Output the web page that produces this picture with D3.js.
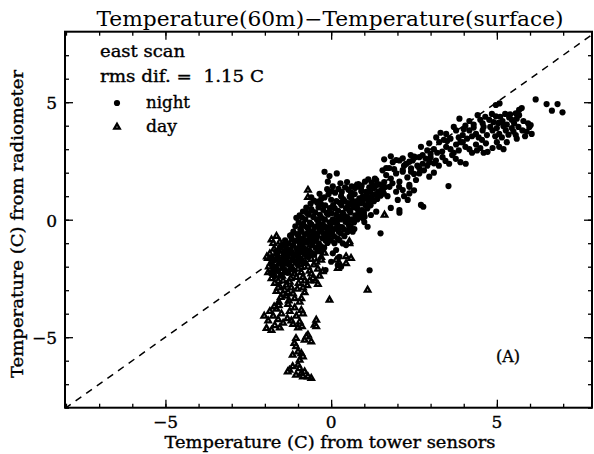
<!DOCTYPE html>
<html>
<head>
<meta charset="utf-8">
<script src="https://cdn.jsdelivr.net/npm/d3@7"></script>
<style>
  body { margin: 0; background: #fff; }
  text { font-family: "DejaVu Serif", serif; fill: #000; }
  .heavy { stroke: #000; stroke-width: 0.35px; }
</style>
</head>
<body>
<div id="vis"></div>
<script>
const FRAME_WIDTH = 594;
const FRAME_HEIGHT = 454;
const PLOT = {left: 65, right: 592, top: 31.7, bottom: 407.7};

// tick values and labels
const minorTicks = [-8, -7, -6, -5, -4, -3, -2, -1, 0, 1, 2, 3, 4, 5, 6, 7];
const majorTicks = [-5, 0, 5];
const tickLabels = ["\u22125", "0", "5"];

// night points [tower, radiometer]
const nightPts = [
  // far top right
  [6.17,5.12],[6.5,4.92],[6.66,4.64],[6.83,4.92],[6.98,4.57],[4.97,4.88],[5.08,4.95],[5.67,4.67],[5.75,4.75],[5.57,4.53],[6.02,4.03],[5.94,4.1],
  // upper band
  [3.87,4.3],[4.17,4.2],[4.42,4.45],[4.57,4.1],[4.77,4.25],[4.97,4.4],[5.17,4.2],[5.37,4.35],[5.52,4.1],[5.67,4.45],[4.3,4.05],[4.65,4.38],[5.05,4.12],[5.3,4.05],[5.45,4.25],[4.85,4.5],[5.25,4.5],[5.6,4.3],[5.8,4.2],[4.05,4.0],[4.5,4.25],[4.9,4.15],[5.1,4.38],[5.4,4.48],
  [3.17,3.5],[3.47,3.65],[3.77,3.8],[3.97,3.6],[4.17,3.8],[4.37,3.65],[4.57,3.8],[4.87,3.8],[5.07,3.65],[5.27,3.8],[5.57,3.6],[5.77,3.8],[5.98,3.95],[3.6,3.45],[3.85,3.5],[4.1,3.45],[4.3,3.92],[4.45,3.5],[4.7,3.6],[4.8,3.95],[5.0,3.9],[5.15,3.5],[5.35,3.62],[5.45,3.9],[5.65,3.95],[5.85,3.55],[3.3,3.7],[3.7,3.95],[4.0,3.85],[4.25,3.55],[4.6,3.95],[4.95,3.55],[5.2,3.98],[5.5,3.75],[3.9,3.3],[4.55,3.4],[3.4,3.4],[5.3,3.3],[5.6,3.45],[5.9,3.75],[6.05,3.65],
  [2.96,3.25],[3.26,3.3],[3.47,3.1],[3.77,3.2],[3.97,3.3],[4.17,3.0],[4.37,3.2],[4.67,3.25],[4.87,3.05],[5.07,3.1],[4.72,2.89],[3.1,3.0],[3.35,2.9],[3.6,3.0],[3.85,2.95],[4.05,3.1],[4.25,2.85],[4.5,3.05],[4.6,2.85],[5.0,3.3],[5.2,3.0],[3.2,2.85],[3.5,3.35],[3.7,2.85],[4.4,2.95],[2.9,2.95],[3.0,2.8],
  [1.66,2.2],[1.86,2.45],[2.06,2.52],[2.26,2.38],[2.46,2.52],[2.66,2.66],[2.76,2.38],[2.96,2.45],[3.16,2.52],[3.36,2.66],[3.56,2.38],[3.76,2.59],[4.06,2.38],[1.96,2.54],[2.16,2.61],[2.36,2.47],[2.51,2.68],[2.71,3.1],[2.76,2.75],[1.6,2.57],[2.2,2.3],[2.6,2.3],[3.0,2.65],[3.25,2.3],[3.45,2.5],[3.65,2.75],[3.9,2.45],[2.9,2.3],[2.4,2.75],[1.8,2.7],[2.85,2.6],[3.1,2.4],
  [1.66,1.9],[1.96,1.97],[2.16,2.11],[2.41,2.18],[2.66,1.97],[2.96,1.83],[2.56,1.69],[2.66,2.19],[2.41,2.04],[2.16,2.04],[2.06,1.62],[1.8,1.75],[2.3,1.8],[2.8,2.1],[3.1,2.0],[1.55,2.1],[1.75,2.2],[2.5,1.95],[1.9,2.15],
  [1.36,1.69],[1.56,1.26],[1.76,1.4],[1.96,1.19],[2.16,1.26],[2.36,1.4],[2.31,0.84],[2.01,0.84],[2.36,1.48],[2.36,1.12],[3.54,1.43],[1.45,1.5],[1.7,1.0],[1.85,1.55],[2.05,1.4],[2.2,1.0],[2.5,1.25],[1.3,1.35],[1.6,1.6],
  // scattered right of the cluster
  [2.71,0.63],[2.06,0.41],[2.06,0.3],[2.78,0.55],[1.36,0.34],[1.01,0.13],[0.96,0.06],[1.49,-0.58],[1.16,-2.15],[0.55,-0.37],[0.65,-0.51],[0.25,-0.87],[0.35,-1.01],[0.45,-1.08],[0.25,-1.58],[0.15,-1.29],[0.05,-1.43],[0.0,-1.79],[0.2,-1.93],[0.3,-2.0],[-0.17,-2.14],[1.2,0.2],[1.8,0.5],[1.1,-0.3],
  [-0.2,2.04],[-0.05,1.86],[0.17,1.97],[-0.1,1.62],[-0.4,0.77],
  // dense cluster
  [-1.82,-2.28],[-1.78,-1.93],[-1.84,-1.62],
  [-1.71,-2.41],[-1.68,-2.02],[-1.73,-1.71],[-1.66,-1.34],
  [-1.61,-2.18],[-1.57,-1.87],[-1.63,-1.52],[-1.55,-1.19],
  [-1.52,-2.37],[-1.47,-2.04],[-1.5,-1.68],[-1.44,-1.41],[-1.49,-1.08],
  [-1.41,-2.12],[-1.37,-1.79],[-1.43,-1.53],[-1.35,-1.22],[-1.39,-0.88],
  [-1.31,-2.26],[-1.28,-1.91],[-1.33,-1.61],[-1.26,-1.3],[-1.29,-1.01],[-1.24,-0.68],
  [-1.21,-1.98],[-1.17,-1.72],[-1.22,-1.41],[-1.15,-1.09],[-1.19,-0.82],[-1.14,-0.51],
  [-1.11,-2.17],[-1.07,-1.83],[-1.12,-1.49],[-1.05,-1.22],[-1.09,-0.91],[-1.03,-0.61],[-1.08,-0.28],
  [-1.01,-1.88],[-0.97,-1.61],[-1.02,-1.3],[-0.95,-1.02],[-0.99,-0.69],[-0.93,-0.42],[-0.98,-0.11],
  [-0.91,-1.72],[-0.87,-1.38],[-0.92,-1.12],[-0.85,-0.79],[-0.89,-0.51],[-0.84,-0.18],[-0.88,0.09],
  [-0.81,-1.81],[-0.77,-1.49],[-0.82,-1.21],[-0.75,-0.88],[-0.79,-0.62],[-0.74,-0.31],[-0.78,0.02],[-0.73,0.29],
  [-0.71,-1.58],[-0.67,-1.32],[-0.72,-0.98],[-0.65,-0.71],[-0.69,-0.39],[-0.64,-0.12],[-0.68,0.21],
  [-0.61,-1.41],[-0.57,-1.08],[-0.62,-0.82],[-0.55,-0.49],[-0.59,-0.21],[-0.54,0.12],[-0.58,0.38],
  [-0.51,-1.48],[-0.47,-1.19],[-0.52,-0.92],[-0.45,-0.58],[-0.49,-0.31],[-0.44,0.02],[-0.48,0.31],
  [-0.41,-1.29],[-0.37,-1.01],[-0.42,-0.69],[-0.35,-0.41],[-0.39,-0.09],[-0.34,0.21],[-0.38,0.52],
  [-0.31,-1.12],[-0.27,-0.78],[-0.32,-0.51],[-0.25,-0.19],[-0.29,0.08],[-0.24,0.42],
  [-0.21,-1.19],[-0.17,-0.88],[-0.22,-0.59],[-0.15,-0.31],[-0.19,0.01],[-0.14,0.29],[-0.18,0.61],
  [-0.11,-0.99],[-0.07,-0.72],[-0.12,-0.38],[-0.05,-0.11],[-0.09,0.22],[-0.04,0.49],
  [-0.01,-0.88],[0.03,-0.61],[-0.02,-0.29],[0.05,0.02],[0.01,0.28],[0.06,0.62],
  [0.09,-0.71],[0.13,-0.38],[0.08,-0.12],[0.15,0.21],[0.11,0.48],[0.16,0.79],
  [0.19,-0.79],[0.23,-0.51],[0.18,-0.19],[0.25,0.12],[0.21,0.38],[0.26,0.72],
  [0.29,-0.58],[0.33,-0.31],[0.28,0.01],[0.35,0.29],[0.31,0.61],[0.36,0.88],
  [0.39,-0.41],[0.43,-0.09],[0.38,0.22],[0.45,0.48],[0.41,0.79],
  [0.49,-0.52],[0.53,-0.21],[0.48,0.11],[0.55,0.38],[0.51,0.71],[0.56,0.98],
  [0.59,-0.29],[0.63,0.02],[0.58,0.31],[0.65,0.59],[0.61,0.91],
  [0.69,-0.12],[0.73,0.19],[0.68,0.52],[0.75,0.78],[0.71,1.09],
  [0.79,0.01],[0.83,0.32],[0.78,0.61],[0.85,0.91],
  [0.89,0.12],[0.93,0.41],[0.88,0.69],[0.95,0.98],[0.91,1.21],
  [0.99,0.29],[1.03,0.61],[0.98,0.88],[1.05,1.19],
  [1.09,0.48],[1.13,0.79],[1.08,1.11],[1.15,1.38],
  [1.19,0.61],[1.23,0.91],[1.18,1.19],
  [1.29,0.79],[1.33,1.09],[1.28,1.41],
  [1.39,0.88],[1.43,1.21],[1.38,1.49],
  [1.49,1.02],[1.53,1.29],[1.59,1.11],[1.63,1.39],
  // top edge of the cluster
  [-1.05,0.08],[-0.95,0.18],[-0.85,0.35],[-0.75,0.52],[-0.62,0.68],[-0.52,0.81],[-0.42,0.72],[-0.3,0.88],[-0.2,0.95],[-0.08,1.08],[0.02,1.22],[0.12,1.15],[0.22,1.31],[0.32,1.18],[0.42,1.38],[0.52,1.27],[0.62,1.42],[0.72,1.35],[0.82,1.52],[0.92,1.45],[1.02,1.62],[1.12,1.72],[1.22,1.58],[1.32,1.75],[0.05,1.42],[0.28,1.55],[-0.12,1.3],[0.48,1.6],[-0.35,1.1],[-0.6,0.95],
  [-0.3,-1.35],[0.1,-1.0],[0.4,-0.7],[0.7,-0.4],[1.0,-0.1],
  // gap fill inside the cluster
  [-1.75,-2.15],[-1.6,-1.7],[-1.45,-1.85],[-1.3,-1.45],[-1.15,-1.6],[-1.0,-1.45],[-0.85,-1.0],[-0.7,-0.55],[-0.55,-0.7],[-0.4,-0.25],[-0.25,-0.35],[-0.1,-0.55],[0.05,-0.45],[0.2,0.0],[0.35,0.1],[0.5,0.55],[0.65,0.75],[0.8,0.45],[0.95,0.75],[1.1,0.95],[1.25,1.05],[1.4,1.05],[1.55,1.45],[0.9,1.35],[0.6,1.15],[0.3,1.0],[0.0,0.85],[-0.3,0.65],[-0.6,0.45],[-0.9,-0.3],[-1.2,-0.65],[-1.4,-1.05],[-1.6,-1.35],[-1.0,-0.85],[-0.45,-0.82],[-0.15,-0.65],[0.25,-0.3],[0.55,0.0],[0.85,0.2],[1.15,0.62]
];

// day points [tower, radiometer]
const dayPts = [
  [-1.85,-1.45],[-1.72,-1.25],[-1.62,-1.58],[-1.48,-1.32],[-1.35,-1.55],[-1.22,-1.28],[-1.08,-1.52],[-0.95,-1.3],[-0.82,-1.58],[-0.68,-1.22],[-0.55,-1.5],[-0.42,-1.35],[-0.3,-1.6],[-0.2,-1.42],
  [-1.78,-1.75],[-1.65,-2.05],[-1.52,-1.82],[-1.4,-2.15],[-1.28,-1.88],[-1.15,-2.12],[-1.02,-1.78],[-0.9,-2.02],[-0.78,-1.85],[-0.65,-2.18],[-0.52,-1.92],[-0.4,-2.1],[-0.3,-1.72],[-1.88,-2.0],[-0.6,-1.68],[-1.1,-1.65],
  [-1.72,-2.35],[-1.6,-2.62],[-1.48,-2.4],[-1.35,-2.78],[-1.22,-2.5],[-1.1,-2.3],[-0.98,-2.7],[-0.85,-2.45],[-0.72,-2.8],[-0.6,-2.3],[-0.48,-2.6],[-0.35,-2.4],[-1.55,-2.85],[-0.9,-2.25],[-1.3,-2.25],
  [-1.65,-3.05],[-1.52,-3.3],[-1.4,-3.0],[-1.28,-3.45],[-1.15,-3.15],[-1.02,-2.95],[-0.9,-3.35],[-0.8,-3.1],[-1.35,-3.25],[-1.58,-3.5],[-0.95,-3.5],[-1.2,-2.9],
  [-1.75,-1.0],[-1.5,-1.1],[-1.2,-0.95],[-0.9,-1.05],[-0.6,-0.9],[-1.8,-0.85],[-1.65,-0.7],[-1.55,-0.95],
  [-1.7,-2.7],[-1.45,-2.6],[-1.25,-2.65],[-1.05,-2.45],[-0.8,-2.6],[-0.55,-2.5],[-0.4,-2.75],[-1.5,-2.2],[-1.2,-2.05],[-0.95,-1.9],[-0.7,-2.0],[-0.45,-1.8],[-1.7,-1.55],[-1.35,-1.7],[-1.0,-2.1],[-0.75,-1.4],[-1.45,-3.15],[-1.1,-3.35],[-0.85,-2.9],[-1.6,-2.9],[-1.3,-3.1],[-0.65,-2.6],[-0.25,-2.2],[-1.8,-2.5],[-1.9,-2.25],
  // left group
  [-1.95,-4.62],[-1.9,-4.3],[-1.85,-3.9],[-1.75,-4.1],[-1.7,-4.5],[-1.65,-3.8],[-1.6,-4.25],[-1.55,-4.6],[-1.5,-4.0],[-1.8,-4.7],[-1.72,-3.7],[-1.58,-3.65],[-2.02,-4.1],[-1.45,-4.4],
  // right group
  [-1.3,-3.6],[-1.25,-3.9],[-1.2,-4.3],[-1.1,-3.75],[-1.05,-4.1],[-0.95,-4.35],[-0.9,-3.85],[-1.15,-4.45],[-0.85,-4.0],[-1.0,-4.6],[-0.88,-4.55],[-1.32,-4.2],
  // tail
  [-1.06,-5.05],[-1.11,-5.26],[-0.8,-5.12],[-0.7,-4.91],[-0.6,-5.19],[-0.9,-5.69],[-1.16,-5.76],[-0.95,-5.97],[-1.0,-6.18],[-1.26,-6.4],[-1.31,-6.47],[-0.9,-6.54],[-1.06,-6.61],[-0.85,-6.68],[-0.6,-6.75],
  [-0.5,-4.48],[-0.45,-4.27],[-0.45,-4.55],[-0.05,-3.42],
  [-1.0,-5.62],[-0.85,-5.83],[-0.95,-6.33],[-0.8,-6.47],[-1.16,-6.25],[-0.7,-6.68],[-1.06,-5.4],[-0.75,-4.98],
  // scattered
  [-1.91,-1.64],[0.45,-1.57],[1.1,-2.99],[0.55,-0.93],[0.6,-1.64],[0.15,-1.72],[0.25,-1.86],[0.2,-2.07],[-0.7,1.26],[-0.7,0.95],[0.73,1.4],[1.61,0.2],[0.55,-1.01],[0.45,-1.86],[-1.94,-1.58]
];

const svg = d3.select("#vis")
  .append("svg")
    .attr("width", FRAME_WIDTH)
    .attr("height", FRAME_HEIGHT);

const X_SCALE = d3.scaleLinear()
  .domain([-8.03, 7.87])
  .range([PLOT.left, PLOT.right]);

const Y_SCALE = d3.scaleLinear()
  .domain([-8, 8])
  .range([PLOT.bottom, PLOT.top]);

svg.append("clipPath").attr("id", "clip")
  .append("rect")
    .attr("x", PLOT.left).attr("y", PLOT.top)
    .attr("width", PLOT.right - PLOT.left)
    .attr("height", PLOT.bottom - PLOT.top);

// dashed 1:1 line
svg.append("line")
  .attr("clip-path", "url(#clip)")
  .attr("x1", X_SCALE(-8.03)).attr("y1", Y_SCALE(-8.03))
  .attr("x2", X_SCALE(8)).attr("y2", Y_SCALE(8))
  .attr("stroke", "#000")
  .attr("stroke-width", 1.5)
  .attr("stroke-dasharray", "7,6");

// markers: day under night
const tri = d3.symbol().type(d3.symbolTriangle).size(13);
svg.append("g").selectAll("path")
  .data(dayPts)
  .enter()
  .append("path")
    .attr("d", tri)
    .attr("transform", d => "translate(" + X_SCALE(d[0]) + "," + Y_SCALE(d[1]) + ")")
    .attr("fill", "#fff")
    .attr("stroke", "#000")
    .attr("stroke-width", 2.3);

svg.append("g").selectAll("circle")
  .data(nightPts)
  .enter()
  .append("circle")
    .attr("cx", d => X_SCALE(d[0]))
    .attr("cy", d => Y_SCALE(d[1]))
    .attr("r", 3.1)
    .attr("fill", "#000");

// ticks on all four sides, pointing inward
function ticks(axis, vals, size, transform) {
  const g = svg.append("g")
    .attr("transform", transform)
    .call(axis.tickValues(vals).tickSize(size).tickSizeOuter(0).tickFormat(""));
  g.select(".domain").remove();
  g.selectAll("line").attr("stroke", "#000").attr("stroke-width", 1.3);
}
ticks(d3.axisBottom(X_SCALE), minorTicks, -4, "translate(0," + PLOT.bottom + ")");
ticks(d3.axisBottom(X_SCALE), majorTicks, -8, "translate(0," + PLOT.bottom + ")");
ticks(d3.axisTop(X_SCALE), minorTicks, -4, "translate(0," + PLOT.top + ")");
ticks(d3.axisTop(X_SCALE), majorTicks, -8, "translate(0," + PLOT.top + ")");
ticks(d3.axisLeft(Y_SCALE), minorTicks, -4, "translate(" + PLOT.left + ",0)");
ticks(d3.axisLeft(Y_SCALE), majorTicks, -8, "translate(" + PLOT.left + ",0)");
ticks(d3.axisRight(Y_SCALE), minorTicks, -4, "translate(" + PLOT.right + ",0)");
ticks(d3.axisRight(Y_SCALE), majorTicks, -8, "translate(" + PLOT.right + ",0)");

// frame
svg.append("rect")
  .attr("x", PLOT.left).attr("y", PLOT.top)
  .attr("width", PLOT.right - PLOT.left)
  .attr("height", PLOT.bottom - PLOT.top)
  .attr("fill", "none")
  .attr("stroke", "#000")
  .attr("stroke-width", 2);

// tick labels
svg.append("g").selectAll("text")
  .data(majorTicks)
  .enter()
  .append("text")
    .attr("class", "heavy")
    .attr("x", d => X_SCALE(d))
    .attr("y", 428)
    .attr("text-anchor", "middle")
    .attr("font-size", "17px")
    .text((d, i) => tickLabels[i]);

svg.append("g").selectAll("text")
  .data(majorTicks)
  .enter()
  .append("text")
    .attr("class", "heavy")
    .attr("x", 57)
    .attr("y", d => Y_SCALE(d) + 7)
    .attr("text-anchor", "end")
    .attr("font-size", "17px")
    .text((d, i) => tickLabels[i]);

// titles
svg.append("text")
  .attr("x", 330).attr("y", 26)
  .attr("text-anchor", "middle")
  .attr("font-size", "20px")
  .attr("textLength", 467)
  .attr("lengthAdjust", "spacingAndGlyphs")
  .text("Temperature(60m)\u2212Temperature(surface)");

svg.append("text")
  .attr("class", "heavy")
  .attr("x", 330).attr("y", 448)
  .attr("text-anchor", "middle")
  .attr("font-size", "16px")
  .attr("textLength", 331)
  .attr("lengthAdjust", "spacingAndGlyphs")
  .text("Temperature (C) from tower sensors");

svg.append("text")
  .attr("class", "heavy")
  .attr("transform", "translate(23,224) rotate(-90)")
  .attr("text-anchor", "middle")
  .attr("font-size", "16px")
  .attr("textLength", 308)
  .attr("lengthAdjust", "spacingAndGlyphs")
  .text("Temperature (C) from radiometer");

// legend
function legendText(x, y, len, str) {
  svg.append("text").attr("x", x).attr("y", y)
    .attr("class", "heavy")
    .attr("font-size", "16px")
    .attr("textLength", len)
    .attr("lengthAdjust", "spacingAndGlyphs")
    .style("white-space", "pre")
    .text(str);
}
legendText(100, 57, 85, "east scan");
legendText(100, 82, 164, "rms dif. =  1.15 C");
svg.append("circle").attr("cx", 117).attr("cy", 103).attr("r", 3.1).attr("fill", "#000");
legendText(146, 108, 44, "night");
svg.append("path").attr("d", tri).attr("transform", "translate(117,127)")
  .attr("fill", "#fff").attr("stroke", "#000").attr("stroke-width", 2.3);
legendText(146, 132, 31, "day");

svg.append("text").attr("class", "heavy").attr("x", 508).attr("y", 362).attr("text-anchor", "middle")
  .attr("font-size", "16px").text("(A)");
</script>
</body>
</html>
